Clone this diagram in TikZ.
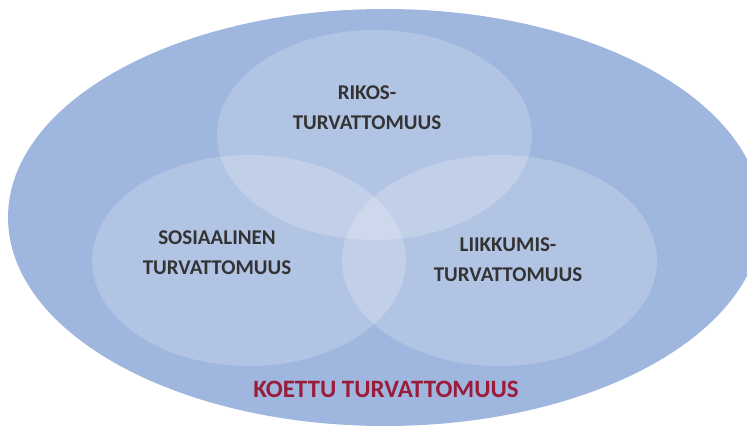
\documentclass[tikz,border=0pt]{standalone}
\usepackage{fontspec}
\setmainfont{Carlito}
\usepackage{tikz}

\definecolor{outerblue}{RGB}{159,182,222}
\definecolor{labelgray}{RGB}{51,51,51}
\definecolor{koettured}{RGB}{155,27,58}

\begin{document}
\begin{tikzpicture}[x=1pt,y=-1pt,
    circlefill/.style={fill=white,fill opacity=0.2},
    areatext/.style={text=labelgray,align=center,
        font=\bfseries\fontsize{21}{30}\selectfont}]
    \useasboundingbox (0,0) rectangle (747,427);
    \fill[outerblue] (385,217.5) ellipse [x radius=377,y radius=208.5];
    \fill[circlefill] (374.5,135) ellipse [x radius=157.5,y radius=105];
    \fill[circlefill] (249,260.5) ellipse [x radius=157,y radius=105.5];
    \fill[circlefill] (499.5,260.5) ellipse [x radius=157.5,y radius=105.5];
    \node[areatext] (rikos) at (367,108) {RIKOS-\\TURVATTOMUUS};
    \node[areatext] (sosiaalinen) at (217,253) {SOSIAALINEN\\TURVATTOMUUS};
    \node[areatext] (liikkumis) at (508,259.5) {LIIKKUMIS-\\TURVATTOMUUS};
    \node[text=koettured,font=\bfseries\fontsize{25}{30}\selectfont] (koettu) at (386,389)
        {KOETTU TURVATTOMUUS};
\end{tikzpicture}
\end{document}
